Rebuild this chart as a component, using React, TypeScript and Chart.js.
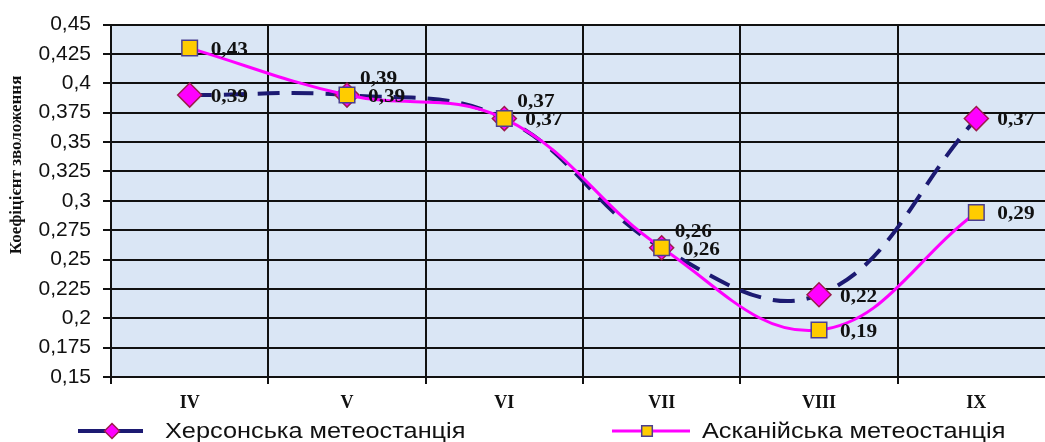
import React, { useEffect, useRef } from 'react';
import { Chart, registerables } from 'chart.js';

Chart.register(...registerables);

// Months of the growing season (Roman numerals)
const MONTHS = ['IV', 'V', 'VI', 'VII', 'VIII', 'IX'];
// Moisture coefficient, Kherson weather station
const KHERSON = [0.39, 0.39, 0.37, 0.26, 0.22, 0.37];
// Moisture coefficient, Askania weather station
const ASKANIA = [0.43, 0.39, 0.37, 0.26, 0.19, 0.29];
const SERIES_NAMES = ['Херсонська метеостанція', 'Асканійська метеостанція'];
const Y_TITLE = 'Коефіцієнт зволоження';
const Y_MIN = 0.15;
const Y_MAX = 0.45;
const Y_STEP = 0.025;

const SANS = '"Liberation Sans", Arial, sans-serif';
const SERIF = '"Liberation Serif", "Times New Roman", serif';

const comma = (v: number, digits: number) =>
  String(parseFloat(Number(v).toFixed(digits))).replace('.', ',');

const valueText = (v: number) => Number(v).toFixed(2).replace('.', ',');

// Draw text stretched horizontally by sx, anchored at its left edge
function wideText(ctx: CanvasRenderingContext2D, text: string, x: number, y: number, sx: number) {
  ctx.save();
  ctx.translate(x, y);
  ctx.scale(sx, 1);
  ctx.fillText(text, 0, 0);
  ctx.restore();
}

// White page + light blue plot area
const backgroundPlugin = {
  id: 'plotBackground',
  beforeDraw(chart: any) {
    const { ctx, chartArea } = chart;
    ctx.save();
    ctx.fillStyle = '#ffffff';
    ctx.fillRect(0, 0, chart.width, chart.height);
    ctx.fillStyle = '#dae6f5';
    ctx.fillRect(chartArea.left, chartArea.top, chartArea.right - chartArea.left, chartArea.bottom - chartArea.top);
    ctx.restore();
  },
};

// Value labels to the right of each marker; when both stations share a value
// the Kherson label is lifted above the Askania one.
const valueLabelPlugin = {
  id: 'valueLabels',
  afterDatasetsDraw(chart: any) {
    const { ctx } = chart;
    ctx.save();
    ctx.font = `bold 19px ${SERIF}`;
    ctx.fillStyle = '#111111';
    ctx.textAlign = 'left';
    ctx.textBaseline = 'middle';
    chart.data.datasets.forEach((ds: any, di: number) => {
      const meta = chart.getDatasetMeta(di);
      const other = chart.data.datasets[1 - di];
      meta.data.forEach((pt: any, i: number) => {
        const v = ds.data[i];
        const shared = other && Math.abs(other.data[i] - v) < 1e-9;
        let dx = 21;
        let dy = 2;
        if (shared && di === 0) {
          dx = 13;
          dy = -16;
        }
        wideText(ctx, valueText(v), pt.x + dx, pt.y + dy, 1.12);
      });
    });
    ctx.restore();
  },
};

function drawMarker(ctx: CanvasRenderingContext2D, style: string, x: number, y: number, r: number, fill: string, stroke: string, lw: number) {
  ctx.beginPath();
  if (style === 'rectRot') {
    ctx.moveTo(x, y - r);
    ctx.lineTo(x + r, y);
    ctx.lineTo(x, y + r);
    ctx.lineTo(x - r, y);
  } else {
    const h = r * Math.SQRT1_2;
    ctx.rect(x - h, y - h, 2 * h, 2 * h);
  }
  ctx.closePath();
  ctx.fillStyle = fill;
  ctx.fill();
  ctx.lineWidth = lw;
  ctx.strokeStyle = stroke;
  ctx.stroke();
}

// Bottom legend (line sample with marker) and rotated y-axis title
const legendPlugin = {
  id: 'bottomLegend',
  afterDraw(chart: any, _args: any, opts: any) {
    const { ctx } = chart;
    ctx.save();
    const y = opts.y;
    chart.data.datasets.forEach((ds: any, di: number) => {
      const item = opts.items[di];
      ctx.beginPath();
      ctx.setLineDash([]);
      ctx.lineWidth = item.lineWidth;
      ctx.strokeStyle = ds.borderColor;
      ctx.moveTo(item.from, y);
      ctx.lineTo(item.to, y);
      ctx.stroke();
      drawMarker(ctx, ds.pointStyle, item.markerX, y, item.markerRadius, ds.pointBackgroundColor, ds.pointBorderColor, 1.5);
      ctx.font = `22px ${SANS}`;
      ctx.fillStyle = '#111111';
      ctx.textAlign = 'left';
      ctx.textBaseline = 'middle';
      wideText(ctx, ds.label, item.textX, y + 1, 1.15);
    });
    // y-axis title
    ctx.translate(opts.titleX, opts.titleY);
    ctx.rotate(-Math.PI / 2);
    ctx.font = `bold 17px ${SERIF}`;
    ctx.textAlign = 'center';
    ctx.textBaseline = 'middle';
    ctx.fillStyle = '#111111';
    ctx.fillText(Y_TITLE, 0, 0);
    ctx.restore();
  },
};

export default function App() {
  const canvasRef = useRef<HTMLCanvasElement | null>(null);

  useEffect(() => {
    const canvas = canvasRef.current;
    if (!canvas) return;
    const chart = new Chart(canvas, {
      type: 'line',
      data: {
        labels: MONTHS,
        datasets: [
          {
            label: SERIES_NAMES[0],
            data: KHERSON,
            borderColor: '#1c1a72',
            borderWidth: 4,
            borderDash: [22, 12],
            tension: 0.4,
            fill: false,
            pointStyle: 'rectRot',
            pointRadius: 12,
            pointBackgroundColor: '#ff00ff',
            pointBorderColor: '#9b1c4c',
            pointBorderWidth: 1.5,
            order: 1,
          },
          {
            label: SERIES_NAMES[1],
            data: ASKANIA,
            borderColor: '#ff00ff',
            borderWidth: 3,
            tension: 0.4,
            fill: false,
            pointStyle: 'rect',
            pointRadius: 11,
            pointBackgroundColor: '#ffcc00',
            pointBorderColor: '#4b3f90',
            pointBorderWidth: 1.5,
            order: 0,
          },
        ],
      },
      options: {
        responsive: false,
        animation: false,
        events: [],
        layout: { padding: { top: 16, right: 15, left: 0, bottom: 0 } },
        plugins: {
          legend: { display: false },
          tooltip: { enabled: false },
          bottomLegend: {
            y: 431,
            titleX: 17,
            titleY: 165,
            items: [
              { from: 78, to: 143, markerX: 112, textX: 165, lineWidth: 4, markerRadius: 7.5 },
              { from: 612, to: 690, markerX: 647, textX: 702, lineWidth: 3, markerRadius: 7.5 },
            ],
          },
        } as any,
        scales: {
          x: {
            type: 'category',
            offset: true,
            grid: { offset: true, color: '#111111', lineWidth: 2, tickLength: 7 },
            border: { display: true, color: '#111111', width: 2 },
            ticks: {
              color: '#111111',
              padding: 9,
              maxRotation: 0,
              font: { family: SERIF, size: 18, weight: 'bold' },
            },
            afterFit: (s: any) => {
              s.height = 65;
            },
          },
          y: {
            min: Y_MIN,
            max: Y_MAX,
            grid: { color: '#111111', lineWidth: 2, tickLength: 8 },
            border: { display: true, color: '#111111', width: 2 },
            ticks: {
              stepSize: Y_STEP,
              color: '#111111',
              padding: 12,
              font: { family: SANS, size: 21 },
              callback: (v: any) => comma(Number(v), 3),
            },
            afterFit: (s: any) => {
              s.width = 111;
            },
          },
        },
      },
      plugins: [backgroundPlugin, valueLabelPlugin, legendPlugin],
    } as any);
    return () => chart.destroy();
  }, []);

  return (
    <div
      style={{
        position: 'fixed',
        left: 0,
        top: 0,
        width: 1045,
        height: 442,
        overflow: 'hidden',
        background: '#ffffff',
      }}
    >
      <canvas ref={canvasRef} width={1070} height={442} style={{ display: 'block' }} />
    </div>
  );
}
